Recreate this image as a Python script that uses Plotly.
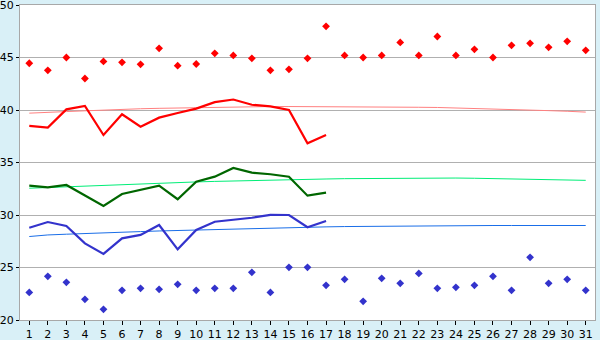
import plotly.graph_objects as go

days = list(range(1, 32))

max_pts = [44.45, 43.78, 45.0, 43.0, 44.63, 44.54, 44.35, 45.87, 44.22, 44.38,
           45.4, 45.2, 44.92, 43.78, 43.87, 44.92, 47.97, 45.2, 45.0, 45.2,
           46.44, 45.2, 47.0, 45.2, 45.78, 45.0, 46.16, 46.35, 45.97, 46.54, 45.68]
min_pts = [22.63, 24.16, 23.59, 21.97, 21.02, 22.83, 23.02, 22.92, 23.4, 22.83,
           23.02, 23.02, 24.54, 22.63, 25.02, 25.02, 23.3, 23.87, 21.78, 23.97,
           23.49, 24.44, 23.02, 23.11, 23.3, 24.16, 22.83, 25.97, 23.49, 23.87, 22.83]

days_cur = list(range(1, 18))
red_line = [38.48, 38.32, 40.06, 40.38, 37.62, 39.59, 38.41, 39.27, 39.71, 40.13,
            40.75, 41.0, 40.5, 40.35, 40.0, 36.83, 37.62]
green_line = [32.79, 32.63, 32.86, 31.9, 30.86, 32.0, 32.38, 32.79, 31.5, 33.17,
              33.65, 34.48, 34.03, 33.88, 33.65, 31.84, 32.13]
blue_line = [28.79, 29.33, 28.95, 27.3, 26.29, 27.78, 28.1, 29.05, 26.73, 28.57,
             29.36, 29.52, 29.74, 30.02, 30.0, 28.83, 29.43]

red_trend = [39.7, 39.8, 39.85, 39.92, 40.0, 40.05, 40.12, 40.16, 40.2, 40.23,
             40.27, 40.3, 40.32, 40.33, 40.33, 40.33, 40.33, 40.32, 40.31, 40.3,
             40.28, 40.26, 40.24, 40.2, 40.16, 40.12, 40.06, 40.0, 39.94, 39.88, 39.8]
green_trend = [32.55, 32.62, 32.7, 32.78, 32.85, 32.92, 32.98, 33.04, 33.1, 33.15,
               33.2, 33.25, 33.3, 33.33, 33.36, 33.4, 33.43, 33.46, 33.48, 33.5,
               33.52, 33.53, 33.53, 33.52, 33.5, 33.47, 33.45, 33.42, 33.4, 33.35, 33.3]
blue_trend = [27.95, 28.1, 28.17, 28.25, 28.3, 28.36, 28.42, 28.48, 28.53, 28.57,
              28.62, 28.67, 28.72, 28.77, 28.82, 28.85, 28.87, 28.9, 28.92, 28.94,
              28.96, 28.98, 29.0, 29.0, 29.0, 29.0, 29.0, 29.0, 29.0, 29.0, 29.0]

y_ticks = [20, 25, 30, 35, 40, 45, 50]

fig = go.Figure()
fig.add_trace(go.Scatter(x=days, y=red_trend, mode="lines",
                         line=dict(color="#ff8080", width=1), hoverinfo="skip"))
fig.add_trace(go.Scatter(x=days, y=green_trend, mode="lines",
                         line=dict(color="#00ee77", width=1), hoverinfo="skip"))
fig.add_trace(go.Scatter(x=days, y=blue_trend, mode="lines",
                         line=dict(color="#1a6ee8", width=1), hoverinfo="skip"))
fig.add_trace(go.Scatter(x=days_cur, y=red_line, mode="lines",
                         line=dict(color="#ff0000", width=2.2)))
fig.add_trace(go.Scatter(x=days_cur, y=green_line, mode="lines",
                         line=dict(color="#006600", width=2.2)))
fig.add_trace(go.Scatter(x=days_cur, y=blue_line, mode="lines",
                         line=dict(color="#3333cc", width=2.2)))
fig.add_trace(go.Scatter(x=days, y=max_pts, mode="markers",
                         marker=dict(symbol="diamond", size=6, color="#ff0000")))
fig.add_trace(go.Scatter(x=days, y=min_pts, mode="markers",
                         marker=dict(symbol="diamond", size=6, color="#3333cc")))

fig.update_layout(
    width=600, height=340,
    margin=dict(l=20, r=5, t=5, b=20, autoexpand=False),
    paper_bgcolor="#d9f0f7",
    plot_bgcolor="#ffffff",
    showlegend=False,
    font=dict(family="DejaVu Sans", size=11, color="#000000"),
)
fig.update_xaxes(
    range=[0.5, 31.5], tickmode="array", tickvals=days,
    ticks="outside", ticklen=4, tickcolor="#000000", tickwidth=1,
    showgrid=False, zeroline=False, automargin=False,
    showline=True, linecolor="#a8a8a8", linewidth=1, mirror=True,
    tickfont=dict(size=11), ticklabelstandoff=0, ticklabeloverflow="allow",
)
fig.update_yaxes(
    range=[20, 50], tickmode="array", tickvals=y_ticks,
    ticks="outside", ticklen=3, tickcolor="#000000", tickwidth=1,
    showgrid=True, gridcolor="#b0b0b0", gridwidth=1, zeroline=False, automargin=False,
    showline=True, linecolor="#a8a8a8", linewidth=1, mirror=True,
    tickfont=dict(size=11), ticklabelstandoff=0, ticklabeloverflow="allow",
)

fig.write_html(
    "out.html",
    config={"displayModeBar": False},
    post_script="document.body.style.margin='0';document.body.style.background='#d9f0f7';",
)
